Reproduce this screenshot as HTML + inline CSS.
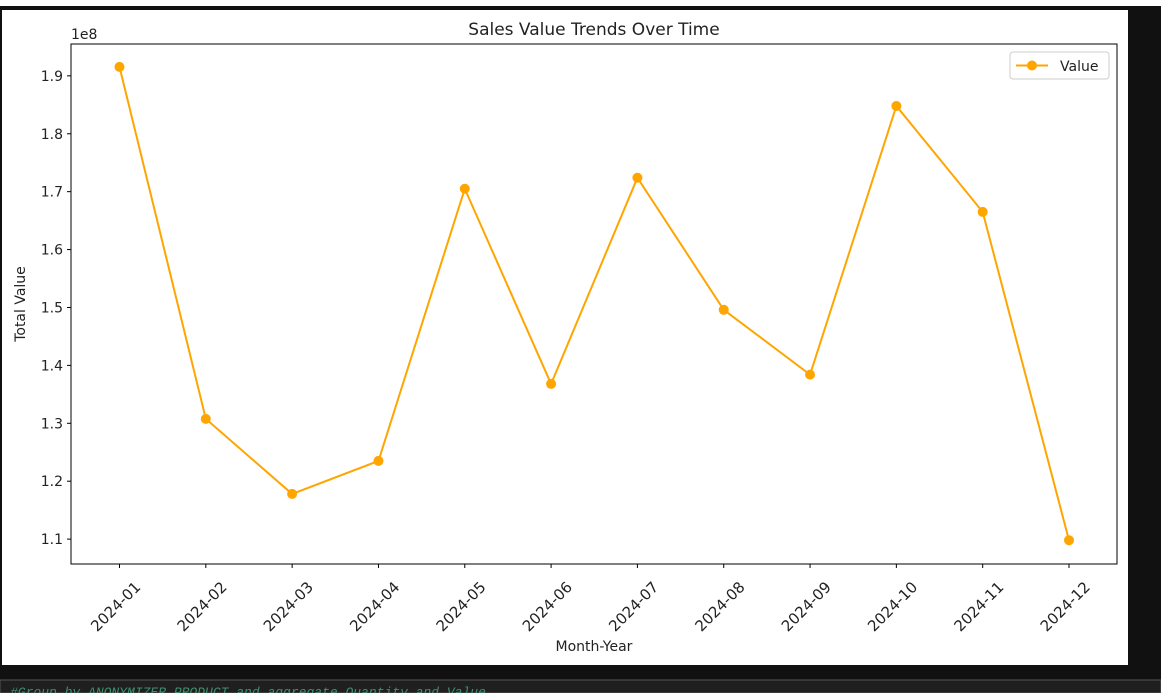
<!DOCTYPE html>
<html><head><meta charset="utf-8"><style>
html,body{margin:0;padding:0;background:#111;width:1161px;height:693px;overflow:hidden;font-family:"Liberation Sans","DejaVu Sans",sans-serif}
</style></head><body>
<svg width="1161" height="693" xmlns="http://www.w3.org/2000/svg">
<rect x="0" y="0" width="1161" height="693" fill="#111"/>
<rect x="0" y="0" width="1161" height="6" fill="#fff"/>
<rect x="2" y="10" width="1126" height="655" fill="#fff"/>
<rect x="0" y="680" width="1161" height="13" fill="#1f1f1f" stroke="#555"/>
<text x="10" y="696" font-family="Liberation Mono,monospace" font-style="italic" font-size="13" fill="#3f8f6f">#Group by ANONYMIZER_PRODUCT and aggregate Quantity and Value</text>
<g id="chart" font-family="DejaVu Sans, Liberation Sans, sans-serif"></g>
</svg>
<script>
const categories=["2024-01","2024-02","2024-03","2024-04","2024-05","2024-06","2024-07","2024-08","2024-09","2024-10","2024-11","2024-12"];
const values=[1.9155,1.3076,1.178,1.235,1.705,1.368,1.724,1.496,1.384,1.848,1.665,1.098];
const yTicks=[1.1,1.2,1.3,1.4,1.5,1.6,1.7,1.8,1.9];
const yTickLabels=["1.1","1.2","1.3","1.4","1.5","1.6","1.7","1.8","1.9"];
const L=71,R=1117,T=44,B=564,yMin=1.057,yMax=1.955;
const x0=119.5,x1=1069;
const xs=i=>x0+(x1-x0)*i/(categories.length-1);
const ys=v=>B-(v-yMin)/(yMax-yMin)*(B-T);
const g=document.getElementById('chart');
const NS="http://www.w3.org/2000/svg";
function mk(t,a,p){const e=document.createElementNS(NS,t);for(const k in a)e.setAttribute(k,a[k]);(p||g).appendChild(e);return e;}
yTicks.forEach((v,i)=>{
 const y=ys(v);
 const tk=mk('line',{x1:L-4,x2:L,y1:y,y2:y,stroke:'#000','stroke-width':1});
 
 
 const t=mk('text',{x:L-8,y:y+5,'text-anchor':'end','font-size':14,fill:'#222'});
 t.textContent=yTickLabels[i];
 
 
});
categories.forEach((c,i)=>{
 const x=xs(i);
 const tk=mk('line',{x1:x,x2:x,y1:B,y2:B+4,stroke:'#000','stroke-width':1});
 
 
 const ax=x+22,ay=B+24;
 const t=mk('text',{x:ax,y:ay,'text-anchor':'end','font-size':15,fill:'#222',transform:`rotate(-45 ${ax} ${ay})`});
 t.textContent=c;
 
 
});
const frame=mk('rect',{x:L,y:T,width:R-L,height:B-T,fill:'none',stroke:'#000','stroke-width':1});


const pts=values.map((v,i)=>xs(i)+','+ys(v)).join(' ');
const line=mk('polyline',{points:pts,fill:'none',stroke:'#ffa500','stroke-width':2});


values.forEach((v,i)=>{
 const c=mk('circle',{cx:xs(i),cy:ys(v),r:5,fill:'#ffa500'});
 
 
});
const title=mk('text',{x:594,y:35,'text-anchor':'middle','font-size':17,fill:'#222'});
title.textContent='Sales Value Trends Over Time';


const off=mk('text',{x:71,y:39,'font-size':14,fill:'#222'});
off.textContent='1e8';


const xt=mk('text',{x:594,y:651,'text-anchor':'middle','font-size':14,fill:'#222'});
xt.textContent='Month-Year';


const yt=mk('text',{x:25,y:304,'text-anchor':'middle','font-size':14,fill:'#222',transform:'rotate(-90 25 304)'});
yt.textContent='Total Value';


const lg=mk('g',{});


mk('rect',{x:1010,y:52,width:99,height:27,rx:3,fill:'#fff',stroke:'#ccc'},lg);
mk('line',{x1:1016,x2:1048,y1:65.5,y2:65.5,stroke:'#ffa500','stroke-width':2},lg);
mk('circle',{cx:1032,cy:65.5,r:5,fill:'#ffa500'},lg);
const lt=mk('text',{x:1060,y:71,'font-size':14,fill:'#222'},lg);
lt.textContent='Value';


</script>
</body></html>
